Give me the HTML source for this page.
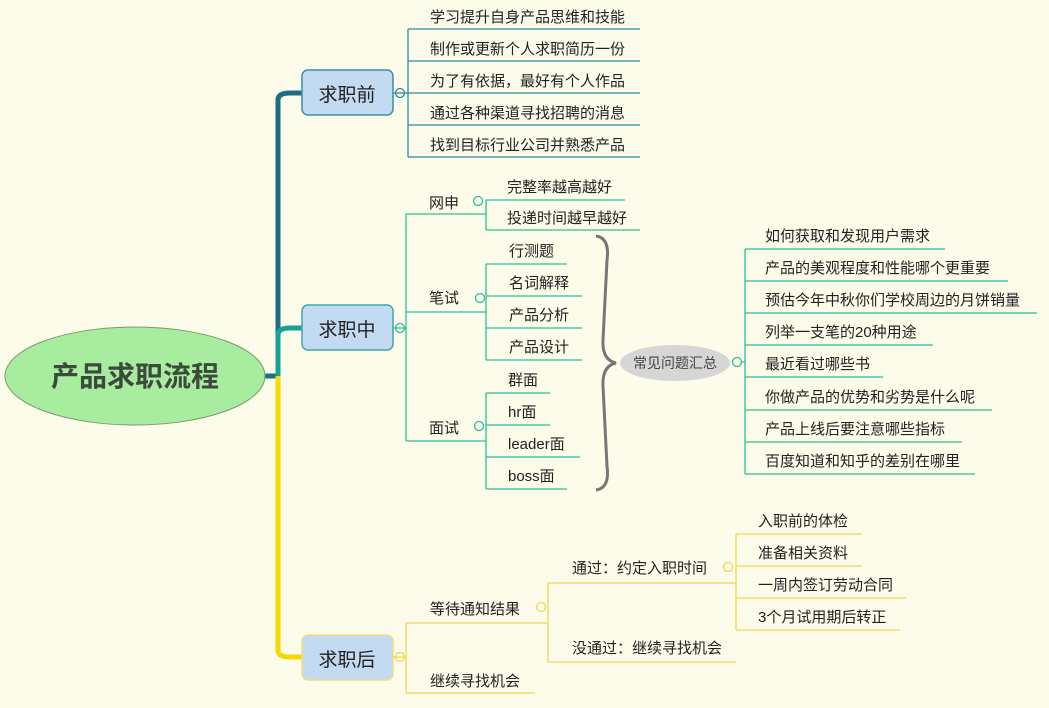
<!DOCTYPE html>
<html><head><meta charset="utf-8"><style>
html,body{margin:0;padding:0;background:#fdfbea;}
svg{display:block;}
text{font-family:"Liberation Sans","Noto Sans CJK SC",sans-serif;fill:#222;}
</style></head><body>
<svg width="1049" height="708" viewBox="0 0 1049 708" xmlns="http://www.w3.org/2000/svg">
<rect width="1049" height="708" fill="#fdfbea"/>
<path d="M265 376 H278 V100 Q278 93 290 93 H302" fill="none" stroke="#1a6f86" stroke-width="5"/>
<path d="M278 376 V335 Q278 328 290 328 H302" fill="none" stroke="#17a394" stroke-width="5"/>
<path d="M278 376 V650 Q278 657 290 657 H302" fill="none" stroke="#f7d800" stroke-width="5"/>
<ellipse cx="135" cy="376" rx="130" ry="49" fill="#a8ecA0" stroke="#7a9a70" stroke-width="1"/>
<text x="135" y="386" font-size="28" font-weight="bold" text-anchor="middle" style="fill:#3b4a3b">产品求职流程</text>
<rect x="302" y="70" width="91" height="45" rx="6" fill="#c3daf3" stroke="#3f8da0" stroke-width="1.5"/>
<text x="347" y="101" font-size="19" text-anchor="middle">求职前</text>
<rect x="302" y="305" width="91" height="45" rx="6" fill="#c3daf3" stroke="#3fa8a8" stroke-width="1.5"/>
<text x="347" y="336" font-size="19" text-anchor="middle">求职中</text>
<rect x="302" y="635" width="91" height="45" rx="6" fill="#c3daf3" stroke="#eee080" stroke-width="1.5"/>
<text x="347" y="666" font-size="19" text-anchor="middle">求职后</text>

<g font-size="15">
<g fill="none" stroke="#2a8aa0" stroke-width="1.3">
<circle cx="400" cy="93" r="4.5" fill="#fdfbea"/>
<path d="M393 93 H408 M408 29 V157 M408 29 H640 M408 61 H640 M408 93 H640 M408 125 H640 M408 157 H640"/>
</g>
<text x="430" y="22">学习提升自身产品思维和技能</text>
<text x="430" y="54">制作或更新个人求职简历一份</text>
<text x="430" y="86">为了有依据，最好有个人作品</text>
<text x="430" y="118">通过各种渠道寻找招聘的消息</text>
<text x="430" y="150">找到目标行业公司并熟悉产品</text>

<g fill="none" stroke="#2bbf9c" stroke-width="1.3">
<circle cx="400" cy="328" r="4.5" fill="#fdfbea"/>
<path d="M393 328 H406 M406 214 V441"/>
<path d="M406 214 H486 M486 200 V230 M486 200 H625 M486 230 H640"/>
<circle cx="478" cy="201" r="4.5" fill="#fdfbea"/>
<path d="M406 312 H486 M486 264 V360 M486 264 H567 M486 296 H582 M486 328 H582 M486 360 H582"/>
<circle cx="480" cy="298" r="4.5" fill="#fdfbea"/>
<path d="M406 441 H486 M486 393 V489 M486 393 H550 M486 425 H550 M486 457 H580 M486 489 H567"/>
<circle cx="479" cy="426" r="4.5" fill="#fdfbea"/>
<circle cx="737" cy="362" r="4.5" fill="#fdfbea"/>
<path d="M742 362 H745 M745 249 V474 M745 249 H945 M745 281 H1008 M745 313 H1037 M745 345 H933 M745 377 H883 M745 410 H992 M745 442 H962 M745 474 H975"/>
</g>
<text x="429" y="208">网申</text>
<text x="507" y="192">完整率越高越好</text>
<text x="507" y="223">投递时间越早越好</text>
<text x="429" y="303">笔试</text>
<text x="509" y="256">行测题</text>
<text x="509" y="288">名词解释</text>
<text x="509" y="320">产品分析</text>
<text x="509" y="352">产品设计</text>
<text x="429" y="433">面试</text>
<text x="508" y="385">群面</text>
<text x="508" y="417">hr面</text>
<text x="508" y="449">leader面</text>
<text x="508" y="481">boss面</text>
<path d="M596 236 Q610 238 607 260 L603 340 Q602 360 616 363 Q602 366 603 386 L607 466 Q610 488 596 490" fill="none" stroke="#777" stroke-width="3"/>
<ellipse cx="675" cy="363" rx="55" ry="18" fill="#d6d6d6"/>
<text x="675" y="368" font-size="14" text-anchor="middle" style="fill:#444">常见问题汇总</text>
<text x="765" y="241">如何获取和发现用户需求</text>
<text x="765" y="273">产品的美观程度和性能哪个更重要</text>
<text x="765" y="305">预估今年中秋你们学校周边的月饼销量</text>
<text x="765" y="337">列举一支笔的20种用途</text>
<text x="765" y="369">最近看过哪些书</text>
<text x="765" y="402">你做产品的优势和劣势是什么呢</text>
<text x="765" y="434">产品上线后要注意哪些指标</text>
<text x="765" y="466">百度知道和知乎的差别在哪里</text>

<g fill="none" stroke="#f0d850" stroke-width="1.3">
<circle cx="400" cy="657" r="4.5" fill="#fdfbea"/>
<path d="M393 657 H406 M406 623 V693 M406 623 H548 M406 693 H535"/>
<circle cx="541" cy="607" r="4.5" fill="#fdfbea"/>
<path d="M548 583 V662 M548 583 H736 M548 662 H736"/>
<circle cx="728" cy="567" r="4.5" fill="#fdfbea"/>
<path d="M736 534 V630 M736 534 H862 M736 566 H862 M736 598 H906 M736 630 H900"/>
</g>
<text x="430" y="614">等待通知结果</text>
<text x="430" y="686">继续寻找机会</text>
<text x="572" y="573">通过：约定入职时间</text>
<text x="572" y="653">没通过：继续寻找机会</text>
<text x="758" y="526">入职前的体检</text>
<text x="758" y="558">准备相关资料</text>
<text x="758" y="590">一周内签订劳动合同</text>
<text x="758" y="622">3个月试用期后转正</text>
</g>
</svg>
</body></html>
